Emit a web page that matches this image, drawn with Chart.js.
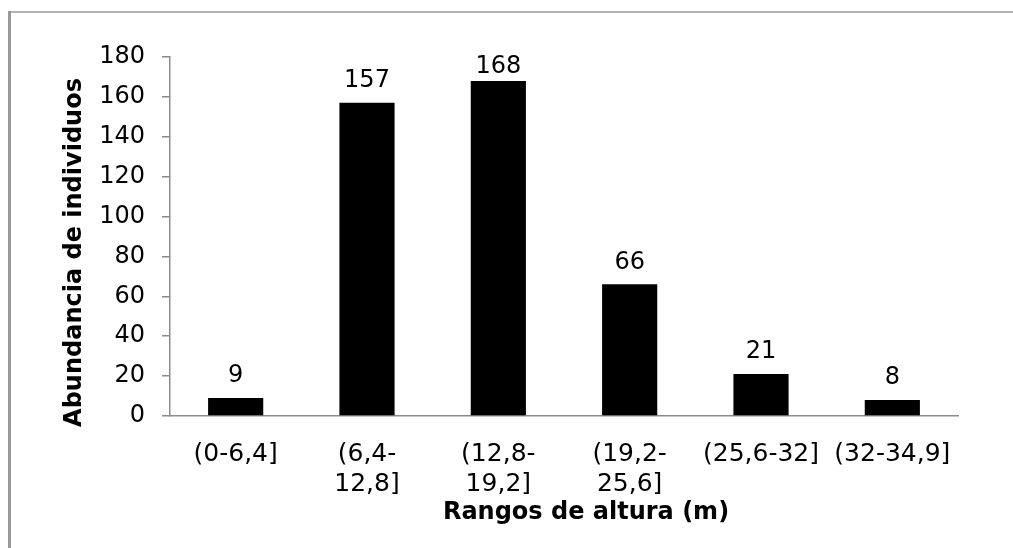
<!DOCTYPE html>
<html>
<head>
<meta charset="utf-8">
<title>Rangos de altura</title>
<script src="https://cdn.jsdelivr.net/npm/chart.js@4.4.1/dist/chart.umd.min.js"></script>
<style>
    html, body { margin: 0; padding: 0; background: #fff; overflow: hidden; }
    #chart { display: block; }
</style>
</head>
<body>
<canvas id="chart" width="1013" height="548"></canvas>
<script>
// Height classes and number of trees in each
const rangos = [
    '(0-6,4]',
    ['(6,4-', '12,8]'],
    ['(12,8-', '19,2]'],
    ['(19,2-', '25,6]'],
    '(25,6-32]',
    '(32-34,9]'
];
const abundancia = [9, 157, 168, 66, 21, 8];

const yMin = 0;
const yMax = 180;
const yStep = 20;

const tituloX = 'Rangos de altura (m)';
const tituloY = 'Abundancia de individuos';

const FONT = '"DejaVu Sans", Verdana, sans-serif';
const axisGray = '#8c8c8c';

// Outer frame of the chart: only its top and left edges show
const frame = {
    id: 'frame',
    beforeDraw(chart) {
        const ctx = chart.ctx;
        ctx.save();
        ctx.lineCap = 'butt';
        ctx.fillStyle = '#b4b4b4';
        ctx.fillRect(8, 11, chart.width - 8, 2);
        ctx.fillStyle = '#999';
        ctx.fillRect(8, 11, 3, chart.height - 11);
        ctx.restore();
    }
};

// Value printed above each bar, pushed down a bit when it would leave the plot
const barLabels = {
    id: 'barLabels',
    afterDatasetsDraw(chart) {
        const ctx = chart.ctx;
        const meta = chart.getDatasetMeta(0);
        const top = chart.chartArea.top;
        ctx.save();
        ctx.font = '24px ' + FONT;
        ctx.fillStyle = '#000';
        ctx.textAlign = 'center';
        ctx.textBaseline = 'middle';
        meta.data.forEach((bar, i) => {
            const y = Math.max(bar.y - 22, top + 10);
            ctx.fillText(String(abundancia[i]), bar.x, y);
        });
        ctx.restore();
    }
};

// Axis titles, placed the way the spreadsheet chart had them
const axisTitles = {
    id: 'axisTitles',
    afterDraw(chart) {
        const { ctx, chartArea } = chart;
        ctx.save();
        ctx.font = 'bold 24px ' + FONT;
        ctx.fillStyle = '#000';
        ctx.textAlign = 'center';
        ctx.textBaseline = 'middle';

        ctx.fillText(tituloX, (chartArea.left + chartArea.right) / 2 + 22, chartArea.bottom + 97);

        ctx.translate(chartArea.left - 95, (chartArea.top + chartArea.bottom) / 2 + 16);
        ctx.rotate(-Math.PI / 2);
        ctx.fillText(tituloY, 0, 0);
        ctx.restore();
    }
};

const ctx = document.getElementById('chart').getContext('2d');
new Chart(ctx, {
    type: 'bar',
    data: {
        labels: rangos,
        datasets: [{
            data: abundancia,
            backgroundColor: '#000',
            borderWidth: 0,
            barPercentage: 0.42,
            categoryPercentage: 1
        }]
    },
    options: {
        responsive: false,
        animation: false,
        layout: { padding: { top: 57, right: 55, bottom: 0, left: 0 } },
        plugins: {
            legend: { display: false },
            tooltip: { enabled: false }
        },
        scales: {
            x: {
                grid: { display: false },
                border: { color: axisGray, width: 1.5 },
                ticks: {
                    color: '#000',
                    font: { family: FONT, size: 25 },
                    padding: 15,
                    maxRotation: 0,
                    autoSkip: false
                },
                afterFit(scale) { scale.height = 132; }
            },
            y: {
                min: yMin,
                max: yMax,
                grid: {
                    drawOnChartArea: false,
                    drawTicks: true,
                    tickLength: 8,
                    color: axisGray,
                    lineWidth: 1.5
                },
                border: { color: axisGray, width: 1.5 },
                ticks: {
                    stepSize: yStep,
                    color: '#000',
                    font: { family: FONT, size: 24 },
                    padding: 17
                },
                afterFit(scale) { scale.width = 170; }
            }
        }
    },
    plugins: [frame, barLabels, axisTitles]
});
</script>
</body>
</html>
